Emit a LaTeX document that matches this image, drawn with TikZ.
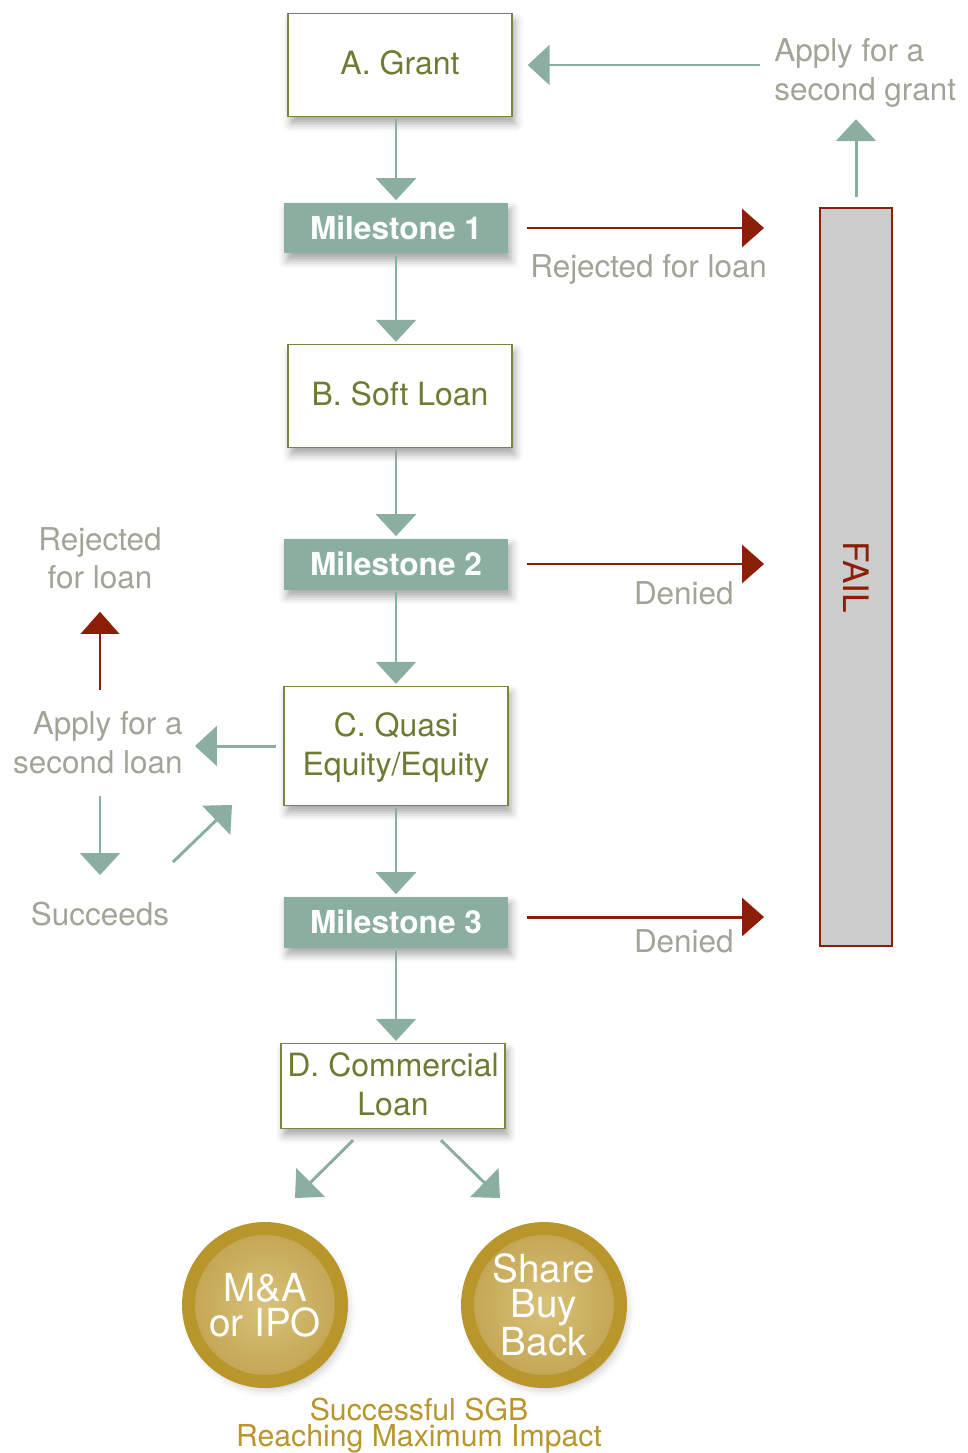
\documentclass[tikz,border=0pt]{standalone}
\usepackage{fontspec}
\usepackage{graphicx}
\setmainfont{TeX Gyre Heros}
\usetikzlibrary{arrows.meta,shadows.blur}

\definecolor{sage}{HTML}{8AAE9F}
\definecolor{failred}{HTML}{8C1E08}
\definecolor{failgrey}{HTML}{CCCCCC}
\definecolor{notegrey}{HTML}{A4A397}
\definecolor{olivetext}{HTML}{6F7A32}
\definecolor{oliveline}{HTML}{7C8540}
\definecolor{goldring}{HTML}{B8962C}
\definecolor{goldlight}{HTML}{D8C27A}
\definecolor{golddark}{HTML}{C3A553}

\newcommand\bxfont{\fontsize{18.2}{22}\selectfont}
\newcommand\ntfont{\fontsize{17.9}{22}\selectfont}
\newcommand\cnfont{\fontsize{22}{20}\selectfont}

\begin{document}
\begin{tikzpicture}[x=0.02cm, y=-0.02cm,
 box/.style={draw=oliveline, line width=0.8pt, fill=white, text=olivetext,
  font=\bxfont, align=center, minimum width=4.48cm, inner sep=0pt, text depth=0.25em,
  blur shadow={shadow xshift=0.06cm, shadow yshift=-0.14cm, shadow blur radius=0.16cm, shadow opacity=35}},
 mile/.style={fill=sage, text=white, font=\fontsize{18}{22}\selectfont\bfseries, minimum width=4.48cm,
  minimum height=1.02cm, inner sep=0pt,
  blur shadow={shadow xshift=0.06cm, shadow yshift=-0.14cm, shadow blur radius=0.16cm, shadow opacity=35}},
 note/.style={text=notegrey, font=\ntfont, inner sep=0pt},
 coin/.style={circle, draw=goldring, line width=0.26cm, minimum size=3.06cm,
  inner color=goldlight, outer color=golddark, text=white, font=\cnfont, align=center, inner sep=0pt,
  blur shadow={shadow xshift=0.08cm, shadow yshift=-0.12cm, shadow blur radius=0.2cm, shadow opacity=30}},
 go/.style={draw=sage, line width=1.7pt, -{Triangle[width=0.8cm,length=0.44cm]}},
 stop/.style={draw=failred, line width=1.7pt, -{Triangle[width=0.76cm,length=0.44cm]}}
]
\useasboundingbox (0,0) rectangle (967,1453);

% main column
\node[box, minimum height=2.06cm] (grant) at (400,65) {A. Grant};
\node[mile] (m1) at (396,228) {Milestone 1};
\node[box, minimum height=2.06cm] (soft) at (400,396) {B. Soft Loan};
\node[mile] (m2) at (396,564) {Milestone 2};
\node[box, minimum height=2.38cm] (quasi) at (396,746) {C. Quasi\\Equity/Equity};
\node[mile] (m3) at (396,922) {Milestone 3};
\node[box, minimum height=1.7cm] (loan) at (393,1086) {D. Commercial\\Loan};

\coordinate (axis) at (396,0);
\foreach \a/\b in {grant/m1, m1/soft, soft/m2, m2/quasi, quasi/m3, m3/loan}
 \draw[go, shorten <=0.04cm, shorten >=0.04cm] (\a.south -| axis) -- (\b.north -| axis);

% fail column
\node[fill=failgrey, draw=failred, line width=1.1pt, minimum width=1.44cm,
 minimum height=14.76cm, text=failred, font=\fontsize{20}{22}\selectfont] (fail) at (856,577)
 {\rotatebox{-90}{FAIL}};

\foreach \m/\dy in {m1/0,m2/0,m3/0.1}
 \draw[stop, shorten <=0.38cm, shorten >=1.1cm] ([yshift=\dy cm]\m.east) -- ([yshift=\dy cm]\m.east -| fail.west);

\node[note, anchor=base west] (rej1) at (530,277) {Rejected for loan};
\node[note, anchor=base east] (den2) at (734,604) {Denied};
\node[note, anchor=base east] (den3) at (734,952) {Denied};
\node[note, anchor=north west, align=left] (apply1) at (774,38) {Apply for a\\second grant};

\draw[go, shorten <=0.28cm, shorten >=0.3cm] (grant.east -| apply1.west) -- (grant.east);
\draw[go, shorten <=0.2cm, shorten >=0.24cm] (fail.north) -- (fail.north |- apply1.south);

% second loan loop
\node[note, anchor=north, align=center] (rej2) at (100,527) {Rejected\\for loan};
\node[note, anchor=north east, align=right] (apply2) at (183,711) {Apply for a\\second loan};
\node[note, anchor=north] (succ) at (100,902) {Succeeds};

\draw[go, shorten <=0.14cm, shorten >=0.24cm] (quasi.west) -- (quasi.west -| apply2.east);
\draw[stop, shorten <=0.42cm, shorten >=0.44cm] (rej2.south |- apply2.north) -- (rej2.south);
\draw[go, shorten <=0.44cm, shorten >=0.54cm] (succ.north |- apply2.south) -- (succ.north);
\coordinate (retry) at (173,862);
\coordinate (back) at (232,805);
\draw[go] (retry) -- (back);

% exits
\node[coin] (mna) at (265,1305) {M\&A\\or IPO};
\node[coin] (sbb) at (544,1305) {Share\\Buy\\Back};

\coordinate (out1) at (295,1198);
\coordinate (out2) at (500,1198);
\draw[go] ([shift={(-0.8cm,-0.22cm)}]loan.south) -- (out1);
\draw[go] ([shift={(0.96cm,-0.22cm)}]loan.south) -- (out2);

\node[text=goldring, font=\fontsize{17.2}{14.7}\selectfont, align=center, anchor=base, inner sep=0pt]
 (done) at (419,1446) {Successful SGB\\Reaching Maximum Impact};

\end{tikzpicture}
\end{document}
